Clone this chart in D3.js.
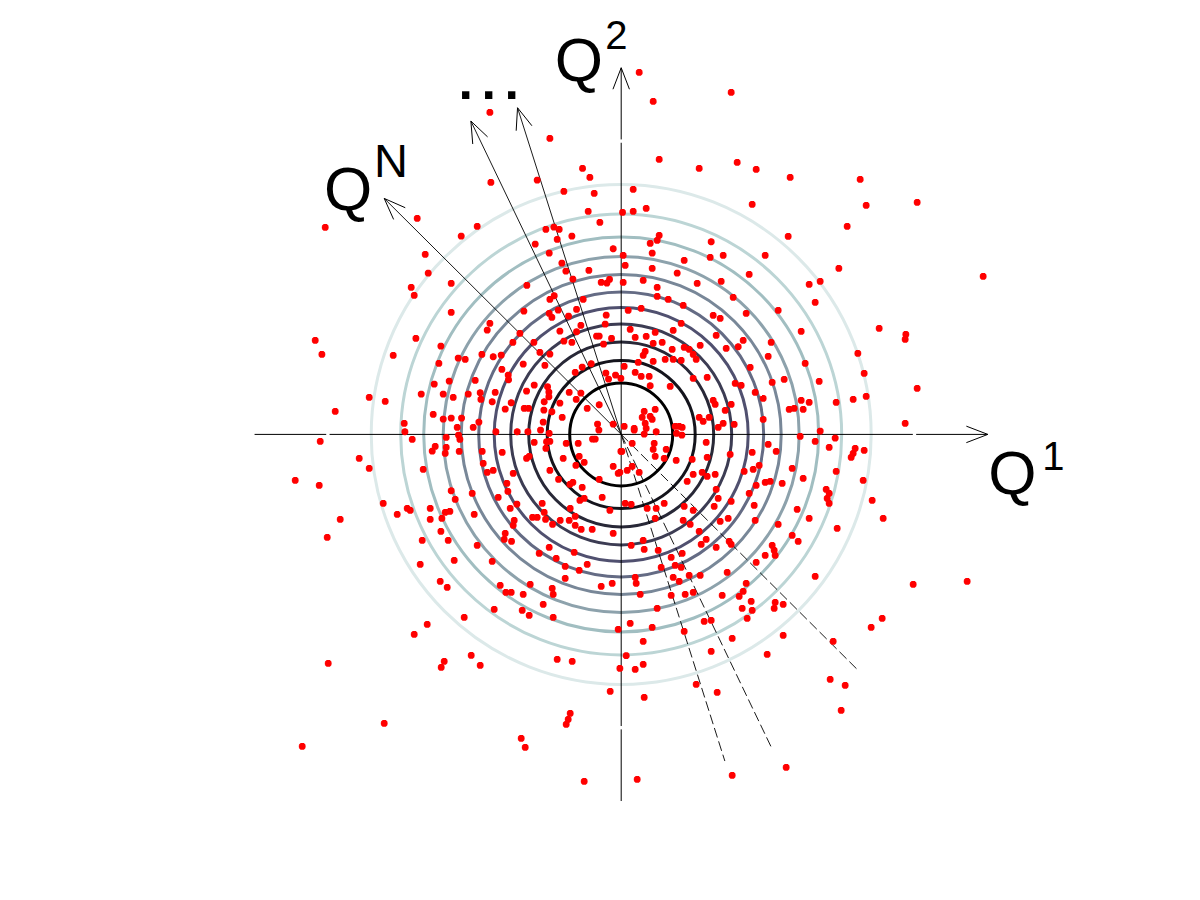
<!DOCTYPE html>
<html>
<head>
<meta charset="utf-8">
<script src="https://cdn.jsdelivr.net/npm/d3@7"></script>
<style>
body { margin: 0; background: #fff; }
text { font-family: "Liberation Sans", Arial, sans-serif; fill: #000; }
</style>
</head>
<body>
<div id="chart"></div>
<script>
// contour rings of the density (radius in Q units) and their colormap position
var contourRadii = [1.545, 2.22, 2.775, 3.315, 3.81, 4.275, 4.80, 5.34, 5.925, 6.615, 7.50];
var contourLevels = [0, 0.09, 0.18, 0.27, 0.36, 0.45, 0.54, 0.63, 0.72, 0.81, 0.90];

// main axes half length, and the tips of the oblique directions ("...", Q^N)
var axisLength = 11;
var axisGapAt = 8.8;
var obliqueTips = [[-3.11, 9.80], [-4.51, 9.40], [-7.11, 7.08]];

// sample points [Q1, Q2]
var samples = [
[-3.94,9.66],[-2.14,8.88],[-1.16,7.98],[-0.94,7.71],[-2.52,7.63],[-3.91,7.56],[-1.72,7.29],[-0.81,7.23],[-0.99,6.69],[-0.64,6.36],
[-8.88,6.21],[-6.12,6.48],[-4.32,6.24],[-4.80,5.95],[-2.26,6.15],[-2.02,6.22],[-1.86,6.15],[-1.48,5.95],[-1.92,5.85],[-2.58,5.71],
[-0.24,5.57],[-2.16,5.44],[-5.88,5.40],[-1.78,5.14],[-0.97,4.92],[-1.66,4.90],[-5.79,4.84],[-1.45,4.66],[-0.60,4.56],[-0.35,4.65],
[-0.43,4.54],[-6.30,4.41],[-6.21,4.17],[-5.10,4.53],[-2.83,4.47],[-2.01,4.16],[-2.14,4.05],[-1.14,4.05],[-2.92,3.70],[-5.10,3.66],
[-1.89,3.73],[-1.34,3.75],[-0.45,3.58],[-2.16,3.63],[-2.08,3.51],[-1.58,3.55],[-3.94,3.33],[-4.02,3.13],[-3.04,3.03],[-1.21,3.27],
[-1.34,3.08],[-0.48,3.31],[-1.84,3.10],[-0.74,2.95],[-0.66,2.95],[-0.29,2.88],[-6.16,2.88],[-3.25,2.76],[-2.62,2.76],[-1.72,2.80],
[-1.48,2.76],[-0.53,2.71],[-9.18,2.82],[-8.98,2.40],[-6.84,2.37],[-5.41,2.65],[-4.18,2.40],[-3.84,2.33],[-3.60,2.38],[-2.44,2.46],
[-2.14,2.41],[-5.47,2.13],[-4.89,2.29],[-4.68,2.25],[-2.94,2.11],[-2.29,2.07],[-3.58,1.95],[-1.17,2.02],[-0.90,2.12],[-3.39,1.78],
[-3.38,1.64],[-0.46,1.84],[-0.17,1.78],[-0.38,1.66],[-1.38,1.86],[-5.61,1.51],[-5.16,1.60],[-4.38,1.62],[-2.61,1.48],[-2.21,1.43],
[-2.17,1.27],[-2.17,1.13],[-2.31,0.98],[-6.00,1.21],[-5.34,1.21],[-5.04,1.11],[-4.59,1.21],[-4.23,1.25],[-3.78,1.26],[-4.21,1.05],
[-2.84,1.30],[-1.56,1.26],[-1.21,1.24],[-1.35,1.05],[-0.66,0.89],[-7.56,1.11],[-7.08,0.99],[-3.87,0.98],[-3.30,0.95],[-2.91,0.78],
[-2.78,0.78],[-1.84,0.94],[-1.02,0.78],[-2.32,0.73],[-2.08,0.68],[-8.58,0.69],[-5.64,0.60],[-5.34,0.46],[-5.10,0.49],[-4.79,0.49],
[-4.27,0.37],[-3.48,0.76],[-1.77,0.51],[-2.34,0.37],[-6.51,0.33],[-4.92,0.21],[-4.44,0.21],[-0.71,0.31],[-0.24,0.31],
[-9.03,-0.21],[-6.49,0.08],[-6.27,-0.15],[-5.25,-0.09],[-4.88,-0.02],[-4.84,-0.15],[-3.76,0.08],[-3.12,0.08],[-2.80,0.08],[-2.42,0.13],
[-2.16,0.03],[-2.24,-0.22],[-2.14,-0.21],[-0.67,0.13],[-0.86,-0.14],[-0.78,-0.14],[-7.86,-0.72],[-7.56,-1.02],[-9.78,-1.38],[-9.06,-1.53],
[-5.67,-0.50],[-5.58,-0.36],[-5.25,-0.39],[-5.28,-0.57],[-4.86,-0.51],[-4.17,-0.51],[-3.57,-0.54],[-2.61,-0.24],[-1.65,-0.27],[-1.29,-0.27],
[-2.26,-0.42],[-2.84,-0.72],[-2.76,-0.66],[-1.74,-0.72],[-1.26,-0.66],[-1.11,-0.84],[-0.01,-0.51],[-0.24,-0.96],[-0.09,-1.17],[-1.36,-0.93],
[-5.94,-1.05],[-4.14,-0.87],[-4.02,-1.14],[-3.84,-1.08],[-3.24,-1.17],[-2.14,-1.08],[-1.88,-1.35],[-0.66,-1.35],[-5.10,-1.69],[-4.98,-1.95],
[-4.47,-1.77],[-3.69,-1.89],[-3.43,-1.47],[-3.40,-1.71],[-1.54,-1.50],[-1.45,-1.44],[-1.17,-1.59],[-7.14,-2.07],[-6.72,-2.40],[-6.42,-2.22],
[-6.33,-2.28],[-5.73,-2.22],[-5.73,-2.55],[-5.38,-2.52],[-5.28,-2.34],[-5.14,-2.31],[-4.41,-2.40],[-3.33,-2.22],[-3.13,-2.09],[-2.37,-2.07],
[-2.31,-2.34],[-0.57,-1.89],[-1.24,-1.98],[-1.11,-1.92],[-1.53,-2.22],[-0.34,-2.28],[-8.43,-2.55],[-8.82,-3.09],[-5.41,-2.91],[-5.97,-3.18],
[-5.19,-3.18],[-4.32,-3.33],[-3.48,-2.97],[-3.51,-3.15],[-3.29,-3.21],[-3.21,-2.58],[-3.24,-2.73],[-2.66,-2.49],[-2.52,-2.49],[-2.27,-2.55],
[-2.06,-2.70],[-1.83,-2.58],[-1.56,-2.58],[-1.38,-2.46],[-1.38,-2.73],[-1.20,-2.85],[-0.87,-2.85],[-0.24,-2.97],[-6.03,-3.90],[-5.01,-3.78],
[-3.87,-3.81],[-2.46,-3.57],[-2.16,-3.39],[-1.95,-3.72],[-1.68,-3.96],[-1.41,-3.54],[-1.26,-4.08],[-1.02,-3.90],[-5.43,-4.41],[-5.22,-4.59],
[-3.63,-4.53],[-3.46,-4.74],[-3.30,-4.74],[-2.94,-4.80],[-2.73,-4.50],[-2.07,-4.62],[-2.04,-4.80],[-1.68,-4.32],[-0.60,-4.56],[-0.27,-4.47],
[-3.81,-5.25],[-2.97,-5.28],[-2.76,-5.43],[-2.34,-5.10],[-2.04,-5.49],[-4.71,-5.49],[-5.82,-5.70],[-6.21,-6.00],[-0.09,-5.85],[-8.79,-6.87],
[-5.40,-6.99],[-5.31,-6.81],[-4.50,-6.63],[-4.23,-6.93],[-1.92,-6.75],[-1.47,-6.81],[-0.33,-7.71],[-7.11,-8.67],[-9.57,-9.36],[-1.53,-8.37],
[-1.59,-8.55],[-1.65,-8.70],[-3.00,-9.12],[-2.88,-9.39],[-1.11,-10.41],
[0.54,10.86],[0.96,9.99],[3.30,10.26],[1.14,8.25],[2.34,7.98],[3.48,8.16],[4.05,7.95],[5.07,7.71],[7.17,7.65],[0.36,7.35],
[3.93,6.90],[7.35,6.87],[8.88,6.96],[0.04,6.66],[0.36,6.69],[0.75,6.78],[6.78,6.24],[5.01,5.94],[1.14,5.97],[0.87,5.73],
[1.08,5.82],[2.70,5.78],[0.06,5.37],[0.93,5.44],[2.67,5.31],[3.06,5.37],[4.32,5.37],[0.12,5.07],[0.93,4.98],[1.89,5.22],
[6.53,4.98],[10.86,4.74],[0.06,4.56],[0.66,4.62],[1.68,4.84],[2.28,4.53],[3.00,4.59],[3.84,4.80],[5.64,4.50],[5.97,4.59],
[1.08,4.41],[1.08,4.14],[1.41,4.05],[3.36,4.11],[5.82,3.96],[0.21,3.72],[0.60,3.78],[1.86,3.87],[2.76,3.57],[2.97,3.48],
[3.75,3.63],[4.71,3.72],[0.27,3.15],[1.02,3.06],[1.56,3.12],[1.80,3.33],[5.40,3.09],[7.74,3.18],[8.54,3.00],[8.52,2.85],
[0.42,2.91],[0.75,2.94],[0.96,2.73],[1.23,2.76],[1.53,2.55],[1.89,2.61],[2.04,2.55],[2.37,2.67],[2.85,2.97],[3.15,2.58],
[3.51,2.63],[3.66,2.82],[4.50,2.76],[0.72,2.49],[0.66,2.37],[0.96,2.19],[1.32,2.25],[1.56,2.25],[1.80,2.22],[2.16,2.40],
[2.25,2.25],[4.41,2.34],[5.52,2.13],[7.10,2.43],[0.09,2.04],[0.51,2.16],[0.42,1.86],[0.60,1.74],[0.84,1.74],[-0.01,1.68],
[0.87,1.46],[1.47,1.44],[2.16,1.68],[2.58,1.71],[3.42,1.53],[3.60,1.47],[3.87,2.01],[4.53,1.56],[4.89,1.65],[5.94,1.59],
[7.29,1.83],[8.88,1.38],[2.76,1.02],[2.82,0.90],[3.12,0.72],[3.30,0.90],[4.02,1.26],[4.26,1.08],[5.40,1.02],[5.64,0.96],
[6.45,0.96],[6.96,1.05],[7.35,1.14],[5.04,0.75],[5.19,0.78],[5.46,0.75],[0.69,0.69],[1.02,0.75],[0.63,0.51],[0.87,0.54],
[0.93,0.45],[0.72,0.33],[0.75,0.18],[0.39,0.18],[0.09,0.24],[1.62,0.24],[1.74,0.24],[1.83,0.21],[2.34,0.51],[2.46,0.39],
[2.64,0.51],[2.91,0.21],[3.06,0.33],[3.39,0.30],[4.26,0.45],[8.52,0.33],
[0.39,0.13],[0.69,0.01],[1.05,0.08],[1.66,0.03],[1.82,-0.02],[5.37,-0.06],[5.97,0.10],[6.42,-0.11],[5.82,-0.21],[0.33,-0.27],
[0.99,-0.27],[0.96,-0.45],[1.35,-0.45],[0.02,-0.51],[1.02,-0.66],[1.29,-0.72],[1.65,-0.78],[2.55,-0.24],[3.27,-0.60],[3.93,-0.54],
[4.41,-0.30],[4.65,-0.51],[6.24,-0.39],[7.02,-0.42],[6.96,-0.57],[6.90,-0.69],[7.29,-0.48],[0.33,-0.96],[0.18,-1.08],[0.54,-1.14],
[-0.04,-1.14],[2.13,-0.75],[2.58,-0.69],[3.69,-1.11],[3.96,-1.05],[4.14,-0.93],[5.13,-1.02],[6.45,-1.11],[2.16,-1.20],[2.43,-1.14],
[2.58,-1.26],[2.82,-1.20],[1.98,-1.41],[4.05,-1.53],[4.32,-1.44],[4.47,-1.41],[4.83,-1.47],[5.46,-1.32],[7.26,-1.38],[6.15,-1.65],
[6.24,-1.77],[6.18,-1.92],[6.24,-2.07],[2.85,-1.65],[3.84,-1.77],[2.91,-1.92],[3.30,-2.01],[3.99,-2.13],[2.79,-2.16],[1.89,-2.16],
[0.12,-2.07],[0.30,-2.10],[0.78,-2.22],[1.05,-2.22],[1.29,-2.07],[2.16,-2.28],[5.28,-2.25],[7.53,-1.98],[1.02,-2.52],[1.86,-2.58],
[2.07,-2.70],[2.97,-2.61],[3.21,-2.52],[4.02,-2.58],[4.71,-2.70],[5.64,-2.52],[6.48,-2.82],[7.86,-2.52],[2.34,-2.91],[0.66,-3.18],
[0.30,-3.33],[0.69,-3.45],[1.11,-3.48],[1.83,-3.57],[2.40,-3.30],[2.55,-3.15],[2.85,-3.39],[3.24,-3.21],[3.30,-3.30],[4.53,-3.33],
[4.59,-3.48],[4.62,-3.63],[4.32,-3.63],[5.13,-3.03],[5.31,-3.21],[1.50,-3.69],[1.20,-3.99],[1.62,-3.93],[1.80,-3.99],[2.04,-4.23],
[2.37,-4.23],[1.56,-4.29],[1.74,-4.41],[0.42,-4.29],[0.45,-4.47],[3.18,-4.14],[4.05,-3.84],[3.75,-4.47],[5.82,-4.26],[8.76,-4.50],
[10.38,-4.41],[0.57,-4.80],[1.50,-4.83],[1.92,-4.80],[2.16,-4.74],[3.03,-4.83],[3.54,-4.86],[3.66,-4.71],[3.90,-5.01],[3.93,-5.28],
[3.63,-5.22],[4.62,-5.04],[4.59,-5.22],[4.86,-5.10],[1.08,-5.22],[0.27,-5.67],[0.93,-5.79],[2.49,-5.61],[2.70,-5.58],[3.78,-5.52],
[7.83,-5.52],[7.50,-5.79],[1.89,-5.91],[0.66,-6.21],[3.33,-6.12],[4.86,-6.03],[6.36,-6.21],[2.70,-6.51],[4.38,-6.60],[0.15,-6.64],
[0.66,-6.90],[0.42,-7.05],[-0.04,-7.02],[6.27,-7.35],[6.72,-7.53],[2.25,-7.50],[2.88,-7.74],[0.69,-7.89],[6.60,-8.28],[4.95,-9.99],
[3.33,-10.23],[0.48,-10.35]
];

var width = 1200, height = 900;
var cx = 621.2, cy = 434.4, unit = 33.33;

var svg = d3.select("#chart").append("svg")
    .attr("width", width)
    .attr("height", height)
    .style("background", "#fff");

var xScale = d3.scaleLinear()
    .domain([-axisLength, axisLength])
    .range([cx - axisLength * unit, cx + axisLength * unit]);
var yScale = d3.scaleLinear()
    .domain([-axisLength, axisLength])
    .range([cy + axisLength * unit, cy - axisLength * unit]);

// matlab "bone" colormap
var clamp = function(v) { return Math.max(0, Math.min(1, v)); };
var bone = function(t) {
    var r = (7 * t + clamp((t - 0.75) / 0.25)) / 8,
        g = (7 * t + clamp((t - 0.375) / 0.375)) / 8,
        b = (7 * t + clamp(t / 0.375)) / 8;
    return d3.rgb(r * 255, g * 255, b * 255).toString();
};

// contour rings
svg.append("g").selectAll("circle")
    .data(contourRadii)
    .enter()
    .append("circle")
    .attr("cx", xScale(0))
    .attr("cy", yScale(0))
    .attr("r", function(d) { return xScale(d) - xScale(0); })
    .attr("fill", "none")
    .attr("stroke", function(d, i) { return bone(contourLevels[i]); })
    .attr("stroke-width", 3);

var axes = svg.append("g")
    .attr("stroke", "#000")
    .attr("fill", "none");

var arrowHead = function(x0, y0, x1, y1) {
    var a = Math.atan2(y1 - y0, x1 - x0),
        len = 23,
        spread = 21 * Math.PI / 180;
    var w1 = [x1 - len * Math.cos(a - spread), y1 - len * Math.sin(a - spread)],
        w2 = [x1 - len * Math.cos(a + spread), y1 - len * Math.sin(a + spread)];
    axes.append("path")
        .attr("d", "M" + w1 + "L" + x1 + "," + y1 + "L" + w2)
        .attr("stroke-width", 1);
};

// Q1 and Q2 axes (with the small breaks)
var pieces = [[-axisLength, -axisGapAt - 0.05], [-axisGapAt + 0.05, axisGapAt - 0.05], [axisGapAt + 0.05, axisLength]];
pieces.forEach(function(p) {
    axes.append("line")
        .attr("x1", xScale(p[0])).attr("x2", xScale(p[1]))
        .attr("y1", yScale(0)).attr("y2", yScale(0))
        .attr("stroke-width", 1);
    axes.append("line")
        .attr("x1", xScale(0)).attr("x2", xScale(0))
        .attr("y1", yScale(p[0])).attr("y2", yScale(p[1]))
        .attr("stroke-width", 1);
});
arrowHead(xScale(0), yScale(0), xScale(axisLength), yScale(0));
arrowHead(xScale(0), yScale(0), xScale(0), yScale(axisLength));

// oblique directions: solid to the tip, dashed backwards
obliqueTips.forEach(function(t) {
    axes.append("line")
        .attr("x1", xScale(0)).attr("y1", yScale(0))
        .attr("x2", xScale(t[0])).attr("y2", yScale(t[1]))
        .attr("stroke-width", 0.9);
    axes.append("line")
        .attr("x1", xScale(0)).attr("y1", yScale(0))
        .attr("x2", xScale(-t[0])).attr("y2", yScale(-t[1]))
        .attr("stroke-width", 0.9)
        .attr("stroke-dasharray", "10,4");
    arrowHead(xScale(0), yScale(0), xScale(t[0]), yScale(t[1]));
});

// sample points, red asterisks
var s = 3.4, k = 2.5;
var star = "M" + (-s) + ",0L" + s + ",0M0," + (-s) + "L0," + s +
    "M" + (-k) + "," + (-k) + "L" + k + "," + k + "M" + (-k) + "," + k + "L" + k + "," + (-k);
svg.append("g").selectAll("path")
    .data(samples)
    .enter()
    .append("path")
    .attr("transform", function(d) { return "translate(" + xScale(d[0]) + "," + yScale(d[1]) + ")"; })
    .attr("d", star)
    .attr("fill", "none")
    .attr("stroke", "#ff0000")
    .attr("stroke-width", 2.4);

// labels
var labels = svg.append("g");
var addLabel = function(main, sup, x, y, supDx, supDy, supSize) {
    labels.append("text")
        .attr("x", x).attr("y", y)
        .attr("font-size", 62)
        .text(main);
    labels.append("text")
        .attr("x", x + supDx).attr("y", y + supDy)
        .attr("font-size", supSize)
        .text(sup);
};
addLabel("Q", "1", xScale(11.0) + 0.5, yScale(-1.78), 54, -23.5, 40);
addLabel("Q", "2", xScale(-1.99), yScale(10.6), 50.5, -32, 40);
addLabel("Q", "N", xScale(-8.92), yScale(6.73), 50, -33, 47);

labels.append("text")
    .attr("x", xScale(-4.88))
    .attr("y", yScale(10.06))
    .attr("font-size", 52)
    .attr("font-weight", "bold")
    .attr("letter-spacing", 8.5)
    .text("...");
</script>
</body>
</html>
